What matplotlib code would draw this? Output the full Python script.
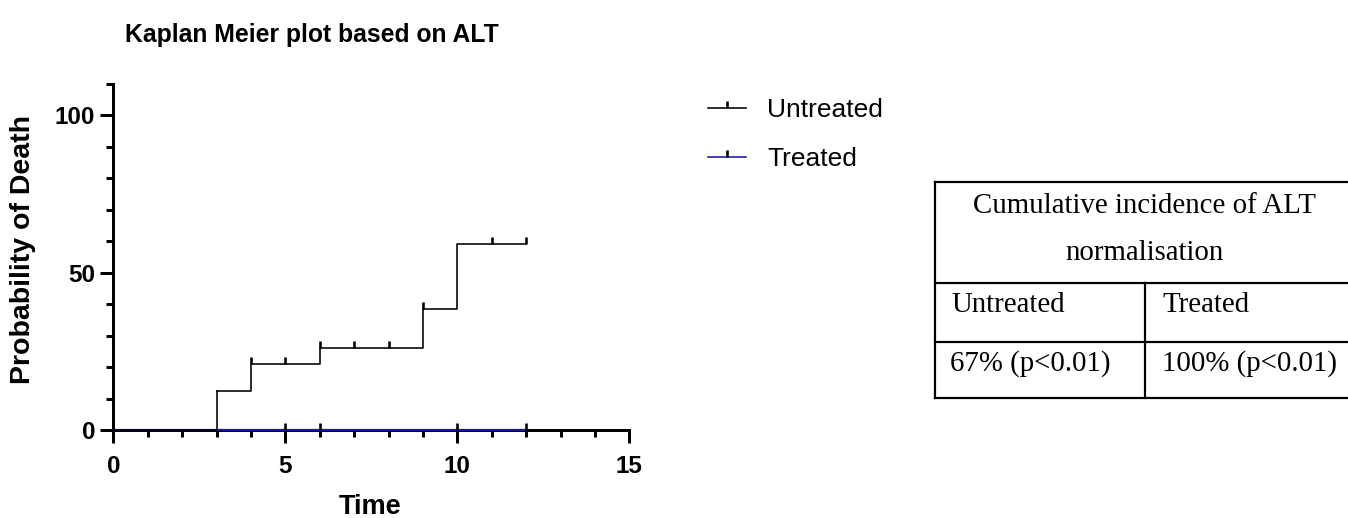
import numpy as np
import matplotlib
matplotlib.use("Agg")
import matplotlib.pyplot as plt
from matplotlib.path import Path
from matplotlib.lines import Line2D
from matplotlib.ticker import MultipleLocator

# ---- data -------------------------------------------------------------
untreated_time = [0, 3, 4, 6, 9, 10, 12]
untreated_prob = [0, 12.5, 20.8, 26.1, 38.3, 58.9, 58.9]
untreated_censored = [4, 5, 6, 7, 8, 9, 11, 12]

treated_time = [0, 12]
treated_prob = [0, 0]
treated_censored = [5, 6, 10, 12]

series_labels = ["Untreated", "Treated"]
x_ticks = [0, 5, 10, 15]
y_ticks = [0, 50, 100]

table_title = ["Cumulative incidence of ALT", "normalisation"]
table_groups = ["Untreated", "Treated"]
table_values = ["67% (p<0.01)", "100% (p<0.01)"]

# ---- styling ------------------------------------------------------------
W, H = 1348, 518
SANS = "Liberation Sans"
SERIF = "Liberation Serif"
BLACK = "#000000"
BLUE = "#16169a"
px = 72 / 100  # points per pixel at dpi 100

fig = plt.figure(figsize=(W / 100, H / 100), dpi=100)
fig.patch.set_facecolor("white")

x0, x1, y0, y1 = 113.3, 629.3, 430.0, 83.5
ax = fig.add_axes([x0 / W, (H - y0) / H, (x1 - x0) / W, (y0 - y1) / H])


def step_value(times, probs, t):
    idx = np.searchsorted(times, t, side="right") - 1
    return probs[idx]


# censor mark: a short stroke rising from the curve
tick_up = Path([(0, 0), (0, 1)], [Path.MOVETO, Path.LINETO])
mark_kw = dict(marker=tick_up, markersize=2 * 7 * px, markeredgewidth=2.6 * px,
               linestyle="none", clip_on=False)

# treated curve (flat at zero), drawn beneath the untreated curve
ax.step(treated_time, treated_prob, where="post", color=BLUE,
        lw=2.2 * px, clip_on=False, zorder=4, solid_capstyle="butt")
ax.plot(treated_censored,
        [step_value(treated_time, treated_prob, t) for t in treated_censored],
        color=BLACK, zorder=6, **mark_kw)

ax.step(untreated_time[:2], untreated_prob[:2], where="post", color=BLACK,
        lw=1.6 * px, clip_on=False, zorder=5)
ax.step(untreated_time[1:], untreated_prob[1:], where="post", color=BLACK,
        lw=1.6 * px, clip_on=False, zorder=5)
ax.plot(untreated_censored,
        [step_value(untreated_time, untreated_prob, t) for t in untreated_censored],
        color=BLACK, zorder=6, **mark_kw)

# axes
ax.set_xlim(0, 15)
ax.set_ylim(0, 110)
for s in ("top", "right"):
    ax.spines[s].set_visible(False)
for s in ("left", "bottom"):
    ax.spines[s].set_linewidth(3 * px)
    ax.spines[s].set_zorder(3)
    ax.spines[s].set_capstyle("projecting")

ax.set_xticks(x_ticks)
ax.set_yticks(y_ticks)
ax.xaxis.set_minor_locator(MultipleLocator(1))
ax.yaxis.set_minor_locator(MultipleLocator(10))
ax.tick_params(which="major", length=13 * px, width=3 * px, direction="out")
ax.tick_params(which="minor", length=7 * px, width=3 * px, direction="out")
ax.tick_params(axis="x", which="major", pad=12 * px)
ax.tick_params(axis="y", which="major", pad=5 * px)
for lab in ax.get_xticklabels() + ax.get_yticklabels():
    lab.set_fontfamily(SANS)
    lab.set_fontweight("bold")
    lab.set_fontsize(17.5)

# titles and axis labels
fig.text(312 / W, (H - 42) / H, "Kaplan Meier plot based on ALT",
         family=SANS, weight="bold", fontsize=17.8, ha="center", va="baseline")
fig.text(23 / W, (H - 250) / H, "Probability of Death", rotation=90,
         family=SANS, weight="bold", fontsize=20.5, ha="center", va="center")
fig.text(370 / W, (H - 514) / H, "Time",
         family=SANS, weight="bold", fontsize=19.5, ha="center", va="baseline")

# legend
handles = [
    Line2D([], [], color=BLACK, lw=1.6 * px, marker=tick_up,
           markersize=2 * 7 * px, markeredgewidth=2.6 * px, markeredgecolor=BLACK),
    Line2D([], [], color=BLUE, lw=1.6 * px, marker=tick_up,
           markersize=2 * 7 * px, markeredgewidth=2.6 * px, markeredgecolor=BLACK),
]
fig.legend(handles, series_labels, loc="upper left",
           bbox_to_anchor=(708 / W, (H - 98) / H), frameon=False,
           borderpad=0, borderaxespad=0, handlelength=1.45, handletextpad=0.8,
           labelspacing=0.95, numpoints=1,
           prop=dict(family=SANS, size=19))

# summary table drawn in pixel coordinates
tab = fig.add_axes([0, 0, 1, 1], zorder=10)
tab.set_xlim(0, W)
tab.set_ylim(H, 0)
tab.axis("off")
tab.patch.set_alpha(0)

t_left, t_right, t_mid = 935, W + 5, 1145
rows = [181.7, 283, 341.7, 398]
lw_tab = 2.2 * px
for y in rows:
    tab.plot([t_left, t_right], [y, y], color=BLACK, lw=lw_tab, clip_on=False,
             solid_capstyle="projecting")
tab.plot([t_left, t_left], [rows[0], rows[-1]], color=BLACK, lw=lw_tab,
         solid_capstyle="projecting")
tab.plot([t_mid, t_mid], [rows[1], rows[-1]], color=BLACK, lw=lw_tab)

tfont = dict(family=SERIF, size=20.8, va="baseline")
tab.text(1144, 212.7, table_title[0], ha="center", **tfont)
tab.text(1144, 260, table_title[1], ha="center", **tfont)
tab.text(951.5, 311.7, table_groups[0], ha="left", **tfont)
tab.text(1162.5, 311.7, table_groups[1], ha="left", **tfont)
tab.text(950.5, 370.5, table_values[0], ha="left", **tfont)
tab.text(1162.5, 370.5, table_values[1], ha="left", **tfont)

fig.savefig("out.png", dpi=100, facecolor="white")
